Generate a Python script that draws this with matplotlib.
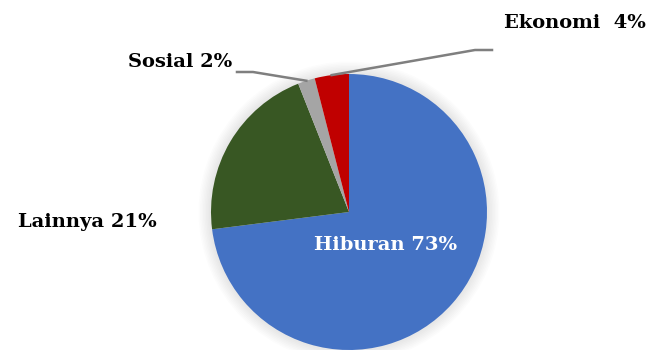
import numpy as np
import matplotlib.pyplot as plt
from matplotlib.patches import Circle

labels = ['Hiburan', 'Lainnya', 'Sosial', 'Ekonomi']
values = [73, 21, 2, 4]
colors = ['#4472C4', '#385723', '#A5A5A5', '#C00000']

W, H = 651, 350
fig = plt.figure(figsize=(W / 100, H / 100), dpi=100)
ax = fig.add_axes([0, 0, 1, 1])

cx, cy, r = 349, H - 212, 138

# soft shadow behind the pie
for k in range(8):
    ax.add_patch(Circle((cx, cy), r + 2 + k * 1.5, color='black', alpha=0.012, lw=0, zorder=0))

wedges, _ = ax.pie(values, colors=colors, startangle=90, counterclock=False,
                   center=(cx, cy), radius=r, frame=True,
                   wedgeprops=dict(linewidth=0))
ax.set_xlim(0, W)
ax.set_ylim(0, H)
ax.set_aspect('equal')
ax.axis('off')

def edge_point(w, frac=1.0):
    ang = np.deg2rad((w.theta1 + w.theta2) / 2)
    return cx + r * frac * np.cos(ang), cy + r * frac * np.sin(ang)

font = dict(family='DejaVu Serif', fontweight='bold', fontsize=14)

# leader lines for the two small slices
sx, sy = edge_point(wedges[2])
ax.plot([237, 253, sx], [H - 72, H - 72, sy], color='#7F7F7F', lw=1.8, zorder=3)
ex, ey = edge_point(wedges[3])
ax.plot([ex, 475, 492], [ey, H - 50, H - 50], color='#7F7F7F', lw=1.8, zorder=3)

ax.text(232, H - 62, f'{labels[2]} {values[2]}%', ha='right', va='center', **font)
ax.text(575, H - 23, f'{labels[3]}  {values[3]}%', ha='center', va='center', **font)
ax.text(87, H - 222, f'{labels[1]} {values[1]}%', ha='center', va='center', **font)
ax.text(386, H - 245, f'{labels[0]} {values[0]}%', ha='center', va='center',
        color='white', **font)

fig.savefig('out.png', dpi=100)
